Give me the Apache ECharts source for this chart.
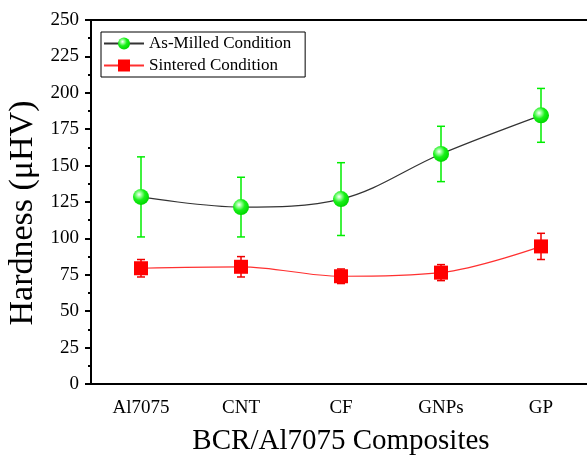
<!DOCTYPE html>
<html>
<head>
<meta charset="utf-8">
<script src="https://cdn.jsdelivr.net/npm/echarts@6/dist/echarts.min.js"></script>
<style>html,body{margin:0;padding:0;background:#fff}#c{width:587px;height:462px}</style>
</head>
<body>
<div id="c"></div>
<script>
const categories = ['Al7075', 'CNT', 'CF', 'GNPs', 'GP'];
const milledValues = [128.5, 121.5, 127, 158, 184.5];
const milledErrors = [27.5, 20.5, 25, 19, 18.5];
const sinteredValues = [79.5, 80.5, 74, 76.5, 94.5];
const sinteredErrors = [6, 7, 5, 5.5, 9];
const yTicks = [0, 25, 50, 75, 100, 125, 150, 175, 200, 225, 250];

const FONT = "'Liberation Serif', 'Times New Roman', serif";

function errData(vals, errs) {
  return vals.map((v, i) => [i, v - errs[i], v + errs[i]]);
}
function errRender(color) {
  return function (params, api) {
    const x = api.value(0);
    const lo = api.coord([x, api.value(1)]);
    const hi = api.coord([x, api.value(2)]);
    const h = 4;
    const st = { stroke: color, lineWidth: 1.5 };
    return {
      type: 'group',
      children: [
        { type: 'line', shape: { x1: lo[0], y1: lo[1], x2: hi[0], y2: hi[1] }, style: st },
        { type: 'line', shape: { x1: hi[0] - h, y1: hi[1], x2: hi[0] + h, y2: hi[1] }, style: st },
        { type: 'line', shape: { x1: lo[0] - h, y1: lo[1], x2: lo[0] + h, y2: lo[1] }, style: st }
      ]
    };
  };
}

const sphere = {
  type: 'radial', x: 0.38, y: 0.35, r: 0.65,
  colorStops: [
    { offset: 0, color: '#ffffff' },
    { offset: 0.22, color: '#9cff9c' },
    { offset: 0.55, color: '#19f019' },
    { offset: 1, color: '#00d800' }
  ]
};

const chart = echarts.init(document.getElementById('c'), null, { renderer: 'canvas' });
chart.setOption({
  animation: false,
  backgroundColor: '#fff',
  textStyle: { fontFamily: FONT },
  grid: [
    { left: 91, top: 20, width: 500, height: 364, show: true, borderColor: '#000', borderWidth: 2, backgroundColor: 'transparent', containLabel: false, outerBoundsMode: 'none' },
    { left: 91, top: 20, width: 500, height: 364, containLabel: false, outerBoundsMode: 'none' }
  ],
  legend: {
    orient: 'vertical', left: 101, top: 32,
    borderColor: '#000', borderWidth: 1, borderRadius: 0,
    padding: [3, 14, 3, 2], itemGap: 5, itemWidth: 40, itemHeight: 15,
    textStyle: { fontFamily: FONT, fontSize: 17, color: '#000' },
    data: ['As-Milled Condition', 'Sintered Condition']
  },
  xAxis: [
    {
      type: 'category', gridIndex: 0, data: categories, boundaryGap: true,
      axisLine: { lineStyle: { color: '#000', width: 2 } },
      axisTick: { alignWithLabel: true, length: 6, lineStyle: { color: '#000', width: 2 } },
      axisLabel: { color: '#000', fontSize: 19, fontFamily: FONT, margin: 15 },
      name: 'BCR/Al7075 Composites', nameLocation: 'middle', nameGap: 43,
      nameTextStyle: { fontSize: 29, fontFamily: FONT, color: '#000' },
      splitLine: { show: false }
    },
    {
      type: 'category', gridIndex: 1, data: categories, boundaryGap: true,
      axisLine: { show: false },
      axisTick: { alignWithLabel: false, length: 3, lineStyle: { color: '#000', width: 2 } },
      axisLabel: { show: false },
      splitLine: { show: false }
    }
  ],
  yAxis: [
    {
      type: 'value', gridIndex: 0, min: 0, max: 250, interval: 25,
      axisLine: { show: true, lineStyle: { color: '#000', width: 2 } },
      axisTick: { show: true, length: 6, lineStyle: { color: '#000', width: 2 } },
      minorTick: { show: true, splitNumber: 2, length: 3, lineStyle: { color: '#000', width: 2 } },
      axisLabel: { color: '#000', fontSize: 19, fontFamily: FONT, margin: 12,
        formatter: v => yTicks.includes(v) ? String(v) : '' },
      name: 'Hardness (μHV)', nameLocation: 'middle', nameGap: 47, nameRotate: 90,
      nameTextStyle: { fontSize: 34, fontFamily: FONT, color: '#000', padding: [0, 22, 0, 0] },
      splitLine: { show: false }
    },
    {
      type: 'value', gridIndex: 1, min: 0, max: 250, show: false, splitLine: { show: false }
    }
  ],
  series: [
    {
      name: 'As-Milled Condition', type: 'line', xAxisIndex: 0, yAxisIndex: 0,
      data: milledValues, smooth: 0.35, symbol: 'circle', symbolSize: 16,
      itemStyle: { color: sphere },
      lineStyle: { color: '#333', width: 1.2 }, z: 3
    },
    {
      name: 'Sintered Condition', type: 'line', xAxisIndex: 0, yAxisIndex: 0,
      data: sinteredValues, smooth: 0.35, symbol: 'rect', symbolSize: 14,
      itemStyle: { color: '#ff0000' },
      lineStyle: { color: '#ff3030', width: 1.2 }, z: 3
    },
    {
      type: 'custom', xAxisIndex: 0, yAxisIndex: 0, z: 2,
      data: errData(milledValues, milledErrors),
      renderItem: errRender('#00ee00'), silent: true
    },
    {
      type: 'custom', xAxisIndex: 0, yAxisIndex: 0, z: 2,
      data: errData(sinteredValues, sinteredErrors),
      renderItem: errRender('#ee0000'), silent: true
    }
  ]
});
</script>
</body>
</html>
